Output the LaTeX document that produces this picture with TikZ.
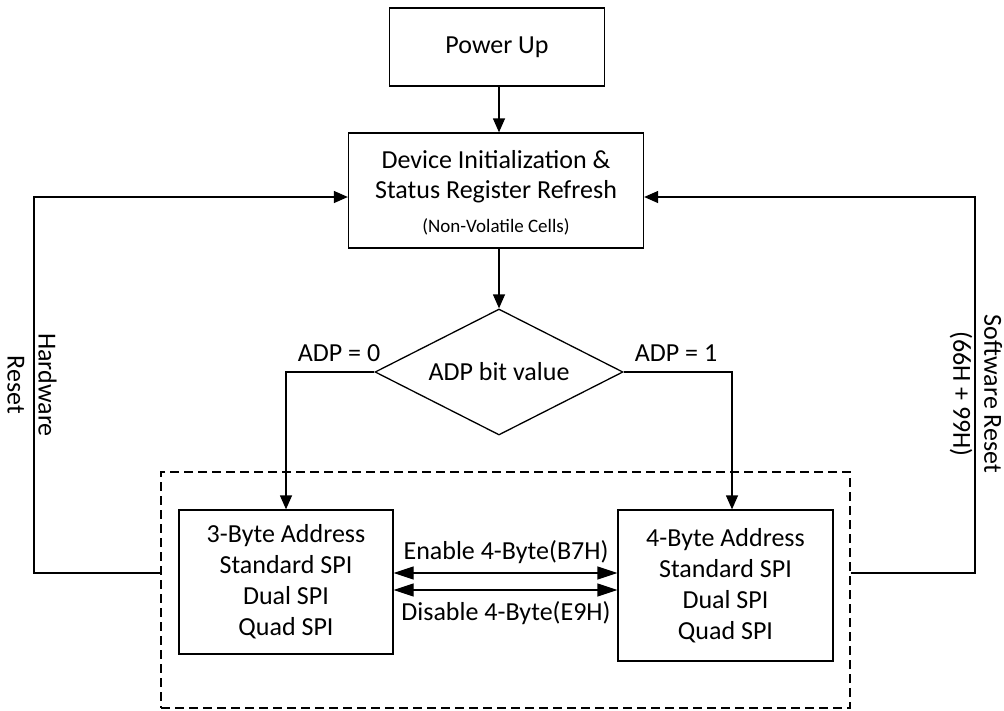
\documentclass[tikz,border=0pt]{standalone}
\usepackage{fontspec}
\setmainfont{Carlito}
\usetikzlibrary{arrows.meta,shapes.geometric}

\begin{document}
\begin{tikzpicture}[x=1pt,y=-1pt,
  font=\fontsize{26}{31}\selectfont,
  line width=1.3pt,
  box/.style={draw, rectangle, align=center, inner sep=0pt},
  decision/.style={draw, diamond, aspect=2, inner sep=0pt,
    minimum width=248pt, minimum height=126pt},
  zonebox/.style={draw, rectangle, dash pattern=on 9pt off 5pt, inner sep=0pt},
  flow/.style={-{Triangle[length=14pt,width=12pt]}},
  twoway/.style={{Triangle[length=20pt,width=13pt]}-{Triangle[length=20pt,width=13pt]}},
  tag/.style={inner sep=0pt, align=center},
  small/.style={font=\fontsize{19}{23}\selectfont}]

\useasboundingbox (0,0) rectangle (1004,710);

% main flow
\node[box, minimum width=215pt, minimum height=78pt] (pu) at (497,47) {Power Up};
\node[box, minimum width=295pt, minimum height=115pt] (dev) at (496,190.5) {};
\node[tag] (devt1) at (496,160) {Device Initialization \&};
\node[tag] (devt2) at (496,192) {Status Register Refresh};
\node[tag, small] (devt3) at (496,227) {(Non-Volatile Cells)};
\node[decision] (adp) at (499,372) {ADP bit value};

% address-mode region
\node[zonebox, minimum width=689pt, minimum height=236pt] (zone) at (505.5,590) {};
\node[box, minimum width=214pt, minimum height=144pt] (lb) at (286,582)
  {3-Byte Address\\Standard SPI\\Dual SPI\\Quad SPI};
\node[box, minimum width=215pt, minimum height=151pt] (rb) at (725.5,585.5)
  {4-Byte Address\\Standard SPI\\Dual SPI\\Quad SPI};

% corner points of the reset loops
\coordinate (hwb) at (34,573);
\coordinate (hwt) at (34,197);
\coordinate (swb) at (975,573);
\coordinate (swt) at (975,197);

% connectors
\draw[flow] (pu.south -| adp.north) -- (dev.north -| adp.north);
\draw[flow] (dev.south -| adp.north) -- (adp.north);
\draw[flow] (adp.west) -| (lb.north);
\draw[flow] (adp.east) -| ([xshift=6.5pt]rb.north);
\draw[twoway] (lb.east |- 0,573) -- (rb.west |- 0,573);
\draw[twoway] (lb.east |- 0,590) -- (rb.west |- 0,590);
\draw[flow] (zone.west |- hwb) -- (hwb) -- (hwt) -- (dev.west |- hwt);
\draw[flow] (zone.east |- swb) -- (swb) -- (swt) -- (dev.east |- swt);

% labels
\node[tag] (l0) at (339,353) {ADP = 0};
\node[tag] (l1) at (676,353) {ADP = 1};
\node[tag] (len) at (506,552) {Enable 4-Byte(B7H)};
\node[tag] (ldis) at (506,613) {Disable 4-Byte(E9H)};
\node[tag, rotate=-90] (lhw) at (32,385) {Hardware\\Reset};
\node[tag, rotate=-90] (lsw) at (976,394) {Software Reset\\(66H + 99H)};
\end{tikzpicture}
\end{document}
